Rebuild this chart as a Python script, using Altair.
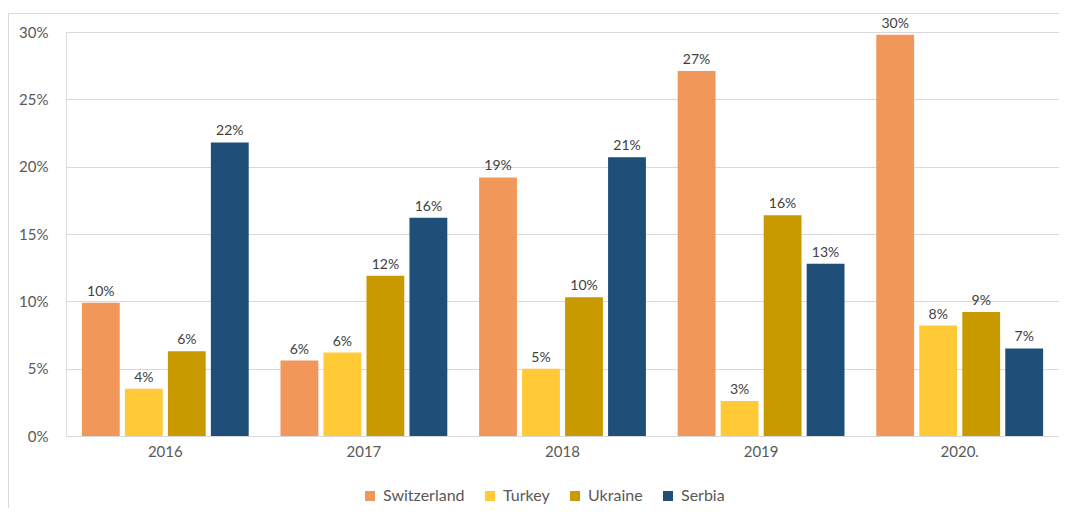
import altair as alt
import pandas as pd

years = ["2016", "2017", "2018", "2019", "2020."]
countries = ["Switzerland", "Turkey", "Ukraine", "Serbia"]
colors = ["#F1975A", "#FFCA35", "#C99A00", "#1F4E79"]

switzerland = [0.099, 0.056, 0.192, 0.271, 0.298]
turkey = [0.035, 0.062, 0.050, 0.026, 0.082]
ukraine = [0.063, 0.119, 0.103, 0.164, 0.092]
serbia = [0.218, 0.162, 0.207, 0.128, 0.065]

series = dict(zip(countries, [switzerland, turkey, ukraine, serbia]))
rows = []
for c in countries:
    for y, v in zip(years, series[c]):
        rows.append({"year": y, "country": c, "value": v})
df = pd.DataFrame(rows)

FONT = "Lato"

x_enc = alt.X("year:N", sort=years, title=None,
              scale=alt.Scale(paddingInner=0.16, paddingOuter=0.08),
              axis=alt.Axis(labelAngle=0, labelFontSize=15, labelColor="#595959",
                            labelFont=FONT, ticks=False, labelPadding=8,
                            domainColor="#d9d9d9", grid=False))
xo_enc = alt.XOffset("country:N", sort=countries,
                     scale=alt.Scale(paddingInner=0.12, paddingOuter=0))
y_enc = alt.Y("value:Q", title=None,
              scale=alt.Scale(domain=[0, 0.30], nice=False),
              axis=alt.Axis(format=".0%", values=[0, 0.05, 0.10, 0.15, 0.20, 0.25, 0.30],
                            labelFontSize=15, labelColor="#595959", labelFont=FONT,
                            ticks=False, domain=False, labelPadding=18,
                            gridColor="#d9d9d9", gridWidth=1))

base = alt.Chart(df)

bars = base.mark_bar().encode(
    x=x_enc,
    xOffset=xo_enc,
    y=y_enc,
    color=alt.Color("country:N", sort=countries,
                    scale=alt.Scale(domain=countries, range=colors),
                    legend=alt.Legend(title=None, orient="none", direction="horizontal",
                                      legendX=296, legendY=456, symbolType="square",
                                      symbolSize=100, symbolStrokeWidth=0,
                                      labelFontSize=16, labelColor="#595959",
                                      labelFont=FONT, columnPadding=17, labelOffset=5)),
)

labels = base.mark_text(dy=-11, fontSize=14, color="#404040", font=FONT).encode(
    x=alt.X("year:N", sort=years),
    xOffset=alt.XOffset("country:N", sort=countries),
    y=alt.Y("value:Q"),
    text=alt.Text("value:Q", format=".0%"),
)

frame_df = pd.DataFrame({"k": [0]})
left_line = alt.Chart(frame_df).mark_rule(color="#d9d9d9", strokeWidth=1).encode(
    x=alt.value(-57.5), y=alt.value(-18.5), y2=alt.value(500))
top_line = alt.Chart(frame_df).mark_rule(color="#d9d9d9", strokeWidth=1).encode(
    x=alt.value(-57.5), x2=alt.value(1000), y=alt.value(-18.5))

chart = alt.layer(bars, labels, left_line, top_line).properties(
    width=993, height=404,
    padding={"left": 58, "top": 24, "right": 0, "bottom": 72},
    autosize=alt.AutoSizeParams(type="none"),
).configure_view(stroke=None).configure(background="white")

chart.save("out.html", embed_options={"renderer": "svg", "actions": False})
